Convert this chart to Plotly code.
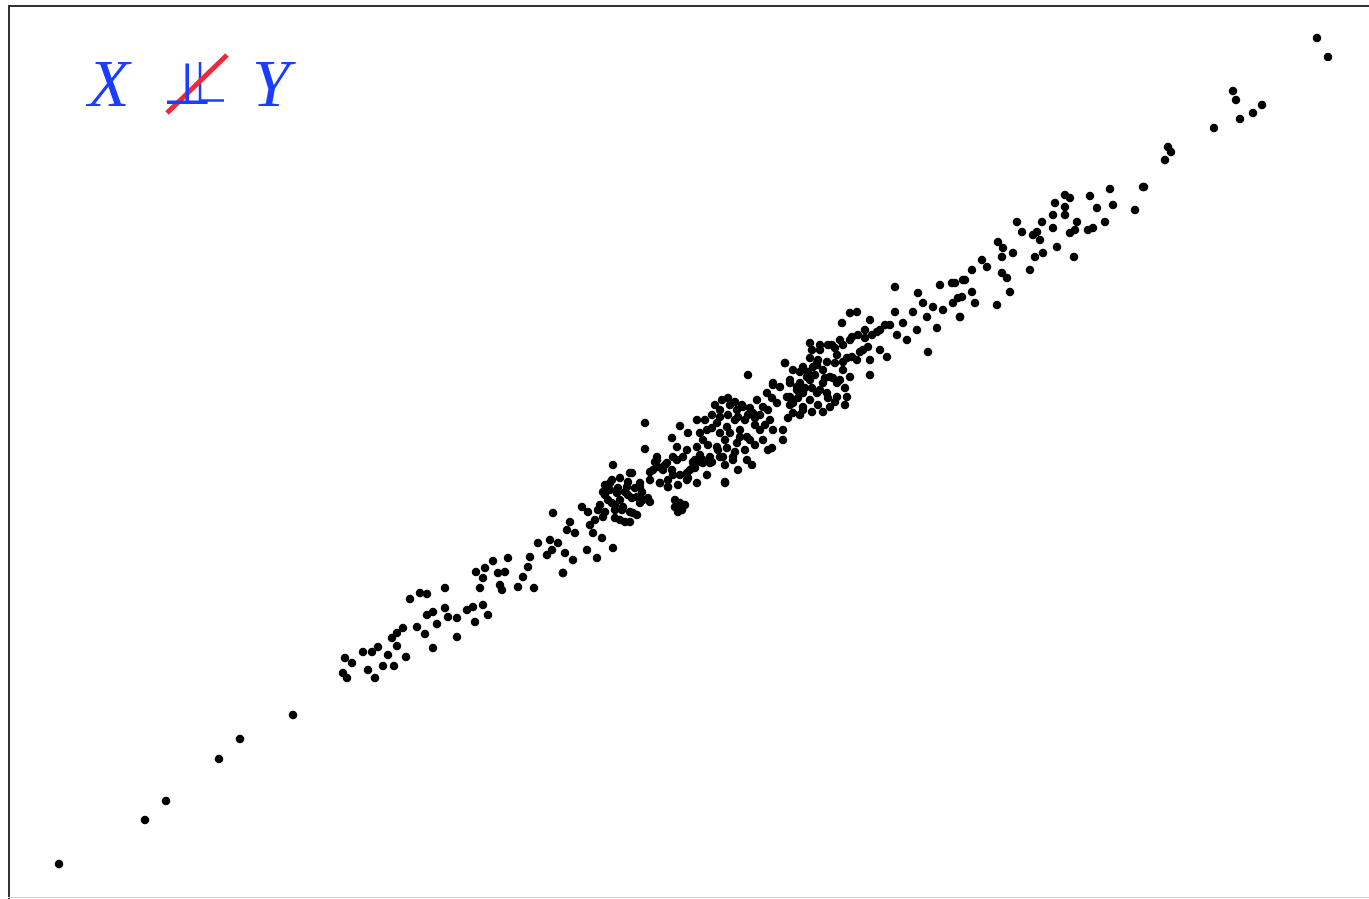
import plotly.graph_objects as go

pts_tail = [(59,864),(145,820),(166,801),(219,759),(240,739),(293,715)]
pts_low = [(345,658),(352,663),(343,673),(347,678),(363,652),(372,652),(378,647),(368,670),(375,678),
           (383,666),(388,655),(394,666),(406,657),(392,638),(397,633),(403,628),(397,646),(417,627),
           (425,634),(433,648),(410,599),(420,593),(427,594),(427,615),(433,612),(437,624),(445,588),
           (445,608),(448,617),(457,618),(457,637),(467,610),(473,607),(483,605),(488,615),(475,622),
           (476,572),(485,568),(493,561),(508,558),(483,578),(480,588),(498,573),(505,572),(500,585),
           (502,590),(530,557),(528,567),(523,577),(518,587),(534,588),(538,543),(547,555),(563,573),(552,550)]
pts_mid1 = [(613,465),(632,473),(553,513),(582,507),(570,522),(567,530),(575,533),(550,540),(558,543),
            (565,553),(573,560),(587,550),(597,558),(613,548),(563,573),(593,533),(602,538),(590,525),
            (610,483),(617,493),(627,487),(637,497),(612,503),(623,507),(633,513),(643,500),(650,502),
            (603,517),(620,520),(630,522),(598,510),(640,483),(605,495),(620,500),(628,495),(615,510),
            (658,467),(650,472),(660,483),(668,487),(673,475),(657,457),(673,457),(683,457),(693,462),
            (703,460),(710,463),(687,480),(697,483),(707,475),(725,483),(720,457),(733,460),(675,507),
            (680,503),(682,510),(663,470),(690,470),
            (605,485),(612,480),(620,478),(628,482),(635,488),(642,492),(648,498),(603,492),(610,490),
            (618,488),(625,492),(632,498),(640,503),(608,500),(615,505),(622,510),(630,512),(637,515),
            (600,505),(605,512),(615,518),(625,522),(595,520),(588,512),(655,462),(665,465),(672,470),
            (680,475),(688,478),(695,468),(700,462),(668,480),(678,485),(675,500),(685,505),(678,512)]
pts_mid2 = [(748,375),(785,363),(645,423),(680,426),(688,433),(672,438),(697,420),(645,449),(630,473),
            (725,482),(768,450),(783,430),(783,440),(720,410),(730,405),(737,410),(743,407),(753,413),
            (757,400),(763,407),(767,393),(773,385),(770,420),(773,430),(760,430),(747,437),(737,443),
            (727,427),(717,423),(707,430),(703,440),(697,447),(687,450),(677,447),(717,447),(723,457),
            (733,457),(747,460),(710,457),(703,463),(693,467),(687,473),(677,460),(667,463),(657,460),
            (653,470),(660,483),(668,487),(650,480),(640,487),(790,380),(797,387),(807,377),(813,367),
            (787,397),(793,403),(803,410),(817,363),(735,420),(745,420),(725,440),(740,430),(755,425),
            (715,405),(722,400),(728,398),(735,402),(742,405),(750,408),(712,415),(720,417),(728,415),
            (738,417),(748,415),(755,418),(705,420),(712,428),(720,433),(730,433),(740,437),(750,440),
            (700,433),(708,445),(718,450),(727,448),(735,452),(745,450),(755,445),(763,440),(765,425),
            (760,415),(768,410),(772,398),(700,455),(695,460),(712,462),(725,465),(738,470),(752,465),(772,448)]
pts_up1 = [(895,287),(918,293),(940,285),(952,283),(963,280),(962,297),(960,317),(937,328),(928,352),
           (895,312),(913,312),(870,375),(850,313),(857,312),(842,323),(870,320),(865,330),(877,332),
           (890,325),(897,335),(903,323),(907,340),(917,330),(927,317),(933,307),(943,310),(953,303),
           (923,303),(810,343),(820,350),(832,345),(840,340),(852,337),(863,350),(880,350),(887,357),
           (870,360),(857,360),(847,358),(837,355),(785,363),(793,370),(803,367),(817,365),(823,370),
           (830,377),(843,370),(850,377),(837,383),(823,383),(810,380),(800,383),(790,383),(780,387),
           (790,397),(803,393),(817,393),(827,393),(837,397),(847,397),(830,407),(803,407),(793,413),
           (777,403),(773,383),
           (812,350),(820,345),(828,345),(835,348),(843,345),(850,340),(858,335),(865,338),(872,335),
           (880,330),(885,325),(810,358),(818,360),(827,362),(835,363),(843,362),(852,357),(860,352),
           (868,347),(800,372),(808,372),(815,375),(825,378),(833,378),(840,380),(845,388),(797,390),
           (805,388),(812,388),(820,390),(828,398),(835,402),(845,405),(798,398),(810,400),(818,405),
           (790,405),(800,415),(812,412),(823,412),(788,418)]
pts_up2 = [(1143,187),(1135,210),(1110,189),(1090,196),(1113,205),(1097,208),(1105,222),(1093,228),
           (1088,230),(1065,195),(1070,198),(1055,203),(1065,207),(1065,215),(1053,215),(1042,222),
           (1077,222),(1075,230),(1070,233),(1053,228),(1033,235),(1040,240),(1037,232),(1057,247),
           (1043,253),(1035,257),(1074,257),(1030,270),(1017,222),(1022,232),(998,242),(1003,248),
           (1013,253),(1002,257),(982,260),(987,267),(972,270),(965,280),(955,283),(1002,273),
           (1007,278),(1010,292),(972,292),(975,303),(997,305),(958,298),(960,317)]
pts_top = [(1317,38),(1328,57),(1233,91),(1236,100),(1262,105),(1253,113),(1240,119),(1214,128),
           (1168,147),(1171,152),(1165,160),(1144,187)]

all_pts = pts_tail + pts_low + pts_mid1 + pts_mid2 + pts_up1 + pts_up2 + pts_top
xs = [p[0] for p in all_pts]
ys = [p[1] for p in all_pts]

fig = go.Figure()
fig.add_trace(go.Scatter(x=xs, y=ys, mode="markers",
                         marker=dict(color="black", size=8.5, line=dict(width=0)),
                         hoverinfo="skip", showlegend=False))

blue = "#1a3dff"
fig.add_annotation(x=108, y=83, xref="x", yref="y", text="<i>X</i>", showarrow=False,
                   font=dict(family="Liberation Serif", size=68, color=blue))
fig.add_annotation(x=274, y=83, xref="x", yref="y", text="<i>Y</i>", showarrow=False,
                   font=dict(family="Liberation Serif", size=68, color=blue))
# independence symbol: one up-tack glyph, doubled with a second stem
fig.add_annotation(x=187, y=84, xref="x", yref="y", text="⊥", showarrow=False,
                   font=dict(family="DejaVu Sans", size=58, color=blue))
fig.add_shape(type="line", x0=200, y0=62, x1=200, y1=101, xref="x", yref="y",
              line=dict(color=blue, width=2.5))
fig.add_shape(type="line", x0=200, y0=100.5, x1=224, y1=100.5, xref="x", yref="y",
              line=dict(color=blue, width=2.5))
fig.add_shape(type="line", x0=167, y0=113, x1=227, y1=55, xref="x", yref="y",
              line=dict(color="#ee2a3a", width=5))

# frame
fig.add_shape(type="line", x0=9, y0=5, x1=9, y1=899, xref="x", yref="y", line=dict(color="#333333", width=2))
fig.add_shape(type="line", x0=8, y0=6, x1=1369, y1=6, xref="x", yref="y", line=dict(color="#333333", width=2))
fig.add_shape(type="line", x0=8, y0=897.5, x1=1369, y1=897.5, xref="x", yref="y", line=dict(color="#d0d0d0", width=1))

fig.update_layout(width=1369, height=899, margin=dict(l=0, r=0, t=0, b=0),
                  paper_bgcolor="white", plot_bgcolor="white")
fig.update_xaxes(range=[0, 1369], visible=False, fixedrange=True)
fig.update_yaxes(range=[899, 0], visible=False, fixedrange=True)
fig.write_html("out.html", config={"displayModeBar": False},
               post_script="document.body.style.margin='0px';document.body.style.overflow='hidden';")
